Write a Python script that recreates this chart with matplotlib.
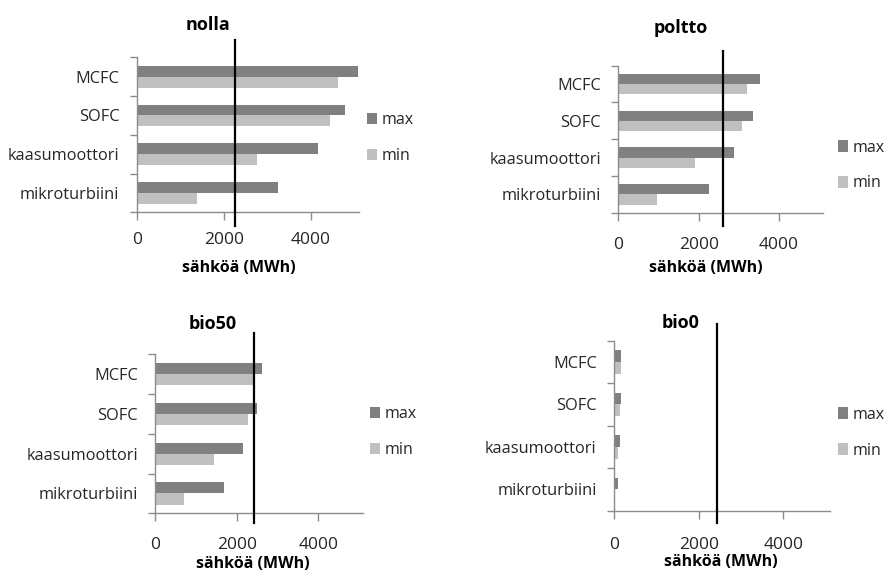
import numpy as np
import matplotlib
matplotlib.use("Agg")
import matplotlib.pyplot as plt

plt.rcParams["font.family"] = ["Open Sans", "DejaVu Sans"]

# --- data -------------------------------------------------------------
categories = ["MCFC", "SOFC", "kaasumoottori", "mikroturbiini"]
scenarios = ["nolla", "poltto", "bio50", "bio0"]
series_labels = ["max", "min"]

nolla_max = [5080, 4790, 4150, 3240]
nolla_min = [4610, 4430, 2770, 1375]
poltto_max = [3520, 3340, 2875, 2245]
poltto_min = [3205, 3075, 1915, 955]
bio50_max = [2625, 2490, 2160, 1680]
bio50_min = [2390, 2280, 1435, 700]
bio0_max = [158, 158, 142, 94]
bio0_min = [158, 142, 94, 31]

# demand level drawn as a vertical line in each panel
demand = [2260, 2610, 2420, 2435]

x_ticks = [0, 2000, 4000]
x_max = 5100
x_label = "sähköä (MWh)"

values_max = [nolla_max, poltto_max, bio50_max, bio0_max]
values_min = [nolla_min, poltto_min, bio50_min, bio0_min]

# --- layout (pixel positions in the 885 x 571 canvas) -----------------
W, H = 885, 571
panels = [
    # axes rect (l, t, r, b), title (x, baseline), xlabel (x, baseline),
    # legend anchor (axes frac), demand line extent (axes frac), tick pad
    dict(rect=(136.7, 57.3, 359.0, 212.3), title=(207.7, 29.5), xl=(238.7, 272.5),
         leg=(1.036, 0.479), line=(-0.086, 1.112), pad=9.0),
    dict(rect=(618.3, 65.7, 823.3, 212.7), title=(680.5, 33.3), xl=(706.2, 271.7),
         leg=(1.072, 0.321), line=(-0.090, 1.102), pad=12.3),
    dict(rect=(155.3, 354.3, 363.3, 513.3), title=(212.8, 329.3), xl=(253.0, 567.5),
         leg=(1.032, 0.511), line=(-0.059, 1.132), pad=11.8),
    dict(rect=(614.0, 340.7, 830.0, 510.7), title=(680.8, 328.3), xl=(720.5, 566.0),
         leg=(1.037, 0.459), line=(-0.072, 1.096), pad=13.7),
]

c_max = "#808080"
c_min = "#c0c0c0"
c_axis = "#8c8c8c"
c_text = "#262626"

fig = plt.figure(figsize=(W / 100, H / 100), dpi=100)
fig.patch.set_facecolor("white")

n = len(categories)
ypos = np.arange(n)[::-1]          # first category at the top
bar_h = 0.28

for name, vmax, vmin, dem, lay in zip(scenarios, values_max, values_min, demand, panels):
    l, t, r, b = lay["rect"]
    ax = fig.add_axes([l / W, 1 - b / H, (r - l) / W, (b - t) / H])

    h_max = ax.barh(ypos + bar_h / 2, vmax, height=bar_h, color=c_max, label=series_labels[0])
    h_min = ax.barh(ypos - bar_h / 2, vmin, height=bar_h, color=c_min, label=series_labels[1])

    ax.set_xlim(0, x_max)
    ax.set_ylim(-0.5, n - 0.5)

    # category boundaries carry the tick marks, centres carry the labels
    ax.set_yticks(np.arange(-0.5, n, 1.0))
    ax.set_yticklabels([])
    ax.set_yticks(ypos, minor=True)
    ax.set_yticklabels(categories, minor=True)
    ax.tick_params(axis="y", which="major", direction="out", length=5, width=1, color=c_axis)
    ax.tick_params(axis="y", which="minor", length=0, pad=12.5, labelsize=11.8, labelcolor=c_text)

    ax.set_xticks(x_ticks)
    ax.set_xticklabels([str(v) for v in x_ticks])
    ax.tick_params(axis="x", direction="out", length=5.5, width=1, color=c_axis,
                   pad=lay["pad"], labelsize=12.5, labelcolor=c_text)

    for side in ("top", "right"):
        ax.spines[side].set_visible(False)
    for side in ("left", "bottom"):
        ax.spines[side].set_color(c_axis)
        ax.spines[side].set_linewidth(1.0)

    y0, y1 = lay["line"]
    ax.plot([dem, dem], [y0, y1], color="black", lw=1.6,
            transform=ax.get_xaxis_transform(), clip_on=False, zorder=5)

    ax.legend(handles=[h_max, h_min], labels=series_labels, loc="center left",
              bbox_to_anchor=lay["leg"], frameon=False, fontsize=11.5,
              handlelength=0.65, handleheight=0.75, handletextpad=0.25,
              labelspacing=1.25, borderpad=0, borderaxespad=0, labelcolor=c_text)

    tx, ty = lay["title"]
    fig.text(tx / W, 1 - ty / H, name, ha="center", va="baseline",
             fontsize=13, fontweight="bold", color="black")
    lx, ly = lay["xl"]
    fig.text(lx / W, 1 - ly / H, x_label, ha="center", va="baseline",
             fontsize=11.5, fontweight="bold", color="black")

fig.savefig("out.png", dpi=100)
